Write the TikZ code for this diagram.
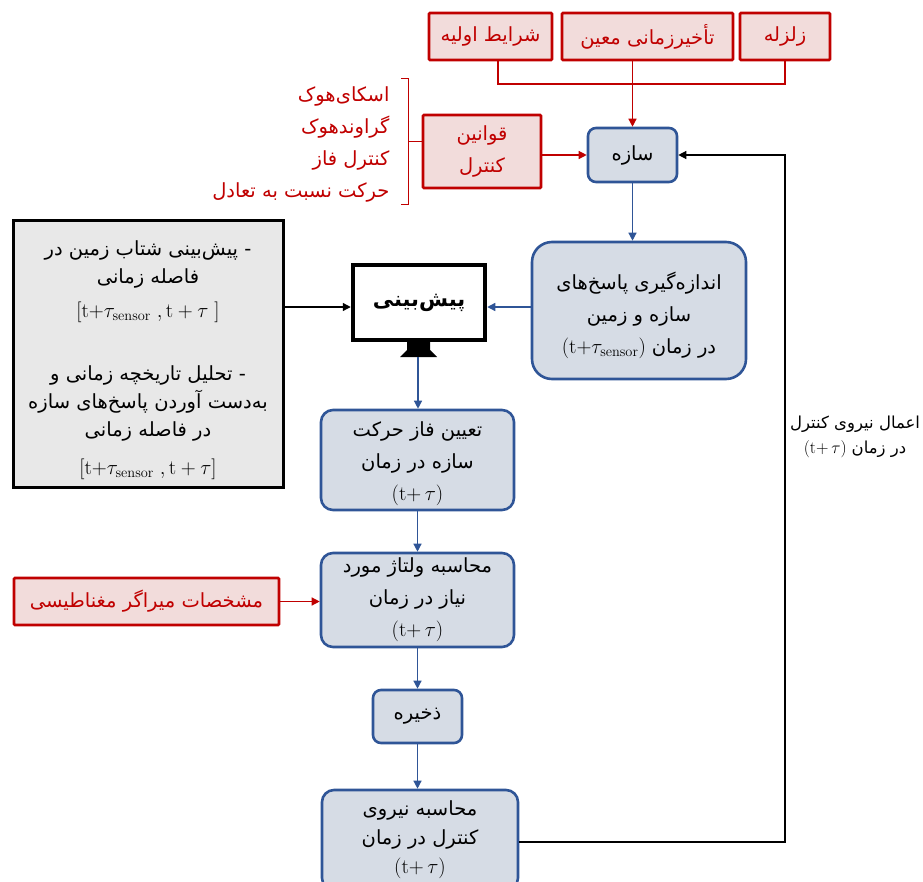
\documentclass[tikz,border=0pt]{standalone}
\usepackage[no-math]{fontspec}
\usepackage{amsmath}
\usetikzlibrary{arrows.meta, positioning, calc}
\newfontfamily\persianfont[Script=Arabic]{DejaVu Sans}
\TeXXeTstate=1
\newcommand{\fatext}[1]{\mbox{\persianfont\beginR #1\endR}}
\newcommand{\ltrtext}[1]{\mbox{\beginL #1\endL}}
\definecolor{darkred}{HTML}{C00000}
\definecolor{pinkfill}{HTML}{F2DCDB}
\definecolor{boxblue}{HTML}{2F5597}
\definecolor{bluefill}{HTML}{D6DCE5}
\definecolor{greyfill}{HTML}{E8E8E8}
\tikzset{> = {Triangle[length = 8pt, width = 8pt]}}
\tikzset{
	redbox/.style = {draw = darkred, line width = 2.6pt, fill = pinkfill, text = darkred, rounded corners = 1pt, inner sep = 0pt, align = center},
	bluebox/.style = {draw = boxblue, line width = 2.6pt, fill = bluefill, rounded corners = 12pt, inner sep = 0pt, align = center},
	greybox/.style = {draw = black, line width = 3pt, fill = greyfill, inner sep = 0pt, align = center},
	screen/.style = {draw = black, line width = 4.5pt, inner sep = 0pt},
	redline/.style = {draw = darkred, line width = 1.3pt},
	blueline/.style = {draw = boxblue, line width = 1.3pt},
	blackline/.style = {draw = black, line width = 1.3pt}
}

\begin{document}
\begin{tikzpicture}[x = 1pt, y = -1pt, font = \fontsize{19.5}{32}\selectfont]
	\useasboundingbox (0, 0) rectangle (923, 881);

	% inputs on top
	\node [redbox, minimum width = 90, minimum height = 47] (quake) at (785, 36.5) {\fatext{زلزله}};
	\node [redbox, minimum width = 171, minimum height = 47] (delay) at (647.5, 36.5) {\fatext{تأخیرزمانی معین}};
	\node [redbox, minimum width = 123, minimum height = 47] (init) at (490.5, 36.5) {\fatext{شرایط اولیه}};

	\node [bluebox, rounded corners = 8pt, minimum width = 89, minimum height = 54] (struct) at (632.5, 155) {\fatext{سازه}};
	\node [redbox, minimum width = 118, minimum height = 73] (laws) at (482, 151.5) {\fatext{قوانین} \\ \fatext{کنترل}};
	\node [text = darkred, align = right, anchor = east] (lawlist) at (393, 144) {\fatext{اسکای‌هوک} \\ \fatext{گراوندهوک} \\ \fatext{کنترل فاز} \\ \fatext{حرکت نسبت به تعادل}};

	% prediction and measurement
	\node [bluebox, rounded corners = 20pt, minimum width = 214, minimum height = 137] (measure) at (639, 310.5) {};
	\node [align = center] (measuretext) at (639, 315) {\fatext{اندازه‌گیری پاسخ‌های} \\ \fatext{سازه و زمین} \\ \ltrtext{$(\mathrm{t}{+}\tau_{\mathrm{sensor}})$} \fatext{در زمان}};
	\node [screen, minimum width = 132, minimum height = 75] (monitor) at (419, 302.5) {\fontsize{21}{30}\selectfont\bfseries\fatext{پیش‌بینی}};
	\fill (407, 340) -- (430, 340) -- (430, 350) -- (437, 357) -- (400, 357) -- (407, 350) -- cycle;
	\coordinate (standbot) at (418, 357);
	\node [greybox, minimum width = 270, minimum height = 267] (notes) at (148, 353.5) {};
	\node [align = center, font = \fontsize{19.5}{28}\selectfont] (notestext) at (148, 360) {\fatext{- پیش‌بینی شتاب زمین در} \\ \fatext{فاصله زمانی} \\[6pt] $[\mathrm{t}{+}\tau_{\mathrm{sensor}}\ ,\mathrm{t}+\tau\ ]$ \\[35pt] \fatext{- تحلیل تاریخچه زمانی و} \\ \fatext{به‌دست آوردن پاسخ‌های سازه} \\ \fatext{در فاصله زمانی} \\[10pt] $[\mathrm{t}{+}\tau_{\mathrm{sensor}}\ ,\mathrm{t}+\tau]$};

	% chain down
	\node [bluebox, minimum width = 193, minimum height = 100] (phase) at (417.5, 460) {};
	\node [align = center] (phasetext) at (417.5, 464) {\fatext{تعیین فاز حرکت} \\ \fatext{سازه در زمان} \\ $(\mathrm{t}{+}\,\tau)$};
	\node [bluebox, minimum width = 193, minimum height = 94] (volt) at (417.5, 600) {\fatext{محاسبه ولتاژ مورد} \\ \fatext{نیاز در زمان} \\ $(\mathrm{t}{+}\,\tau)$};
	\node [redbox, minimum width = 265, minimum height = 47] (damper) at (146.5, 601.5) {\fatext{مشخصات میراگر مغناطیسی}};
	\node [bluebox, rounded corners = 8pt, minimum width = 89, minimum height = 53] (store) at (417.5, 716.5) {\fatext{ذخیره}};
	\node [bluebox, font = \fontsize{19.5}{29}\selectfont, minimum width = 196, minimum height = 100] (force) at (420, 840) {\fatext{محاسبه نیروی} \\ \fatext{کنترل در زمان} \\ $(\mathrm{t}{+}\,\tau)$};

	\node [align = center, font = \fontsize{16.5}{25}\selectfont] (apply) at (855, 437) {\fatext{اعمال نیروی کنترل} \\ \ltrtext{$(\mathrm{t}{+}\,\tau)$} \fatext{در زمان}};

	% connectors
	\coordinate (join) at (498, 84);
	\draw [redline] (init.south -| join) |- (quake.south |- join) -- (quake.south);
	\draw [redline, ->] (delay.south -| struct.north) -- (struct.north);
	\draw [redline, ->] (laws.east |- struct.west) -- (struct.west);
	\coordinate (btop) at (401, 78);
	\coordinate (bbot) at (401, 204);
	\coordinate (bmid) at (408, 141);
	\draw [redline, line width = 1pt] (btop) -- ++(7, 0) |- (bbot);
	\draw [redline, line width = 1pt] (bmid) -- (bmid -| laws.west);

	\coordinate (row) at (0, 307);
	\draw [blueline, ->] (struct.south) -- (struct.south |- measure.north);
	\draw [blueline, ->] (measure.west |- row) -- (monitor.east |- row);
	\draw [blackline, ->] (notes.east |- row) -- (monitor.west |- row);
	\draw [blueline, ->] (standbot) -- (standbot |- phase.north);
	\draw [blueline, ->] (phase.south) -- (volt.north);
	\draw [redline, ->] (damper.east) -- (volt.west |- damper.east);
	\draw [blueline, ->] (volt.south) -- (store.north);
	\draw [blueline, ->] (store.south) -- (store.south |- force.north);

	\coordinate (fb) at (785, 155);
	\draw [blackline, ->] (force.east |- 0, 842) -| (fb) -- (struct.east);
\end{tikzpicture}
\end{document}
